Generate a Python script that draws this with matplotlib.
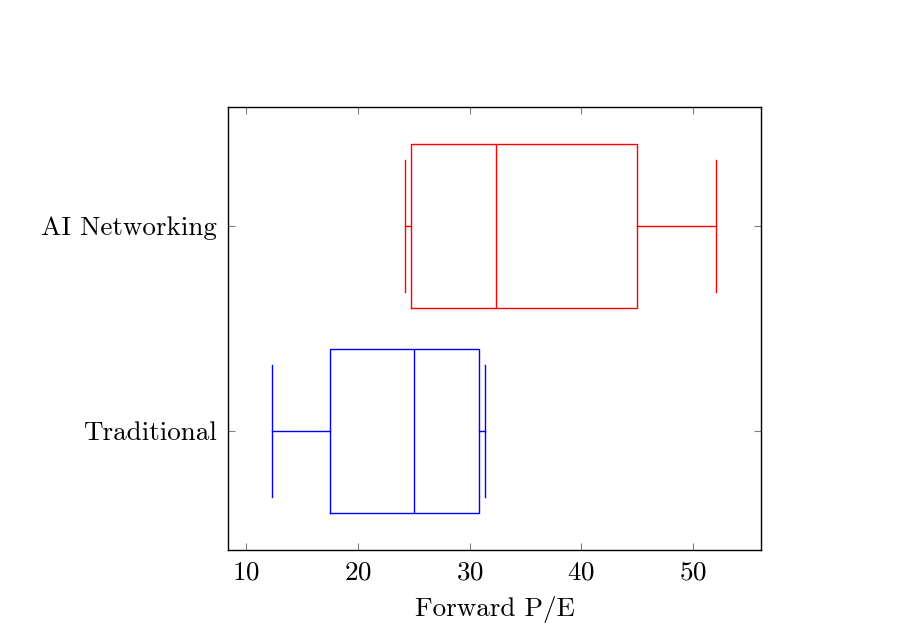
import matplotlib
matplotlib.use("Agg")
import matplotlib.pyplot as plt

# Data (forward P/E)
groups = ["Traditional", "AI Networking"]
colors = ["blue", "red"]
lower_whisker = [12.3, 24.2]
lower_quartile = [17.5, 24.8]
median = [25.0, 32.4]
upper_quartile = [30.8, 45.0]
upper_whisker = [31.4, 52.0]

plt.rcParams["font.family"] = "cmr10"
plt.rcParams["mathtext.fontset"] = "cm"
plt.rcParams["axes.formatter.use_mathtext"] = True

fig = plt.figure(figsize=(9.06, 6.44), dpi=100)
ax = fig.add_axes([228 / 906, 1 - 550 / 644, 533 / 906, 443 / 644])

for i, name in enumerate(groups):
    stats = [{
        "whislo": lower_whisker[i],
        "q1": lower_quartile[i],
        "med": median[i],
        "q3": upper_quartile[i],
        "whishi": upper_whisker[i],
        "fliers": [],
        "label": name,
    }]
    c = colors[i]
    ax.bxp(stats, positions=[i + 1], widths=0.8, capwidths=0.64,
           orientation="horizontal", showfliers=False,
           boxprops=dict(color=c, linewidth=1.0),
           medianprops=dict(color=c, linewidth=1.0),
           whiskerprops=dict(color=c, linewidth=1.0),
           capprops=dict(color=c, linewidth=1.0),
           manage_ticks=False)

ax.set_xlim(8.4, 56.06)
ax.set_ylim(0.42, 2.58)

ax.set_xticks([10, 20, 30, 40, 50])
ax.set_yticks([1, 2])
ax.set_yticklabels(groups)
ax.tick_params(axis="both", direction="in", length=5, width=0.8, color="0.5",
               top=True, right=True, labelsize=19.5, pad=8)
for s in ax.spines.values():
    s.set_linewidth(1.0)

ax.set_xlabel("Forward P/E", fontsize=19.5, labelpad=8)

fig.savefig("out.png", dpi=100)
